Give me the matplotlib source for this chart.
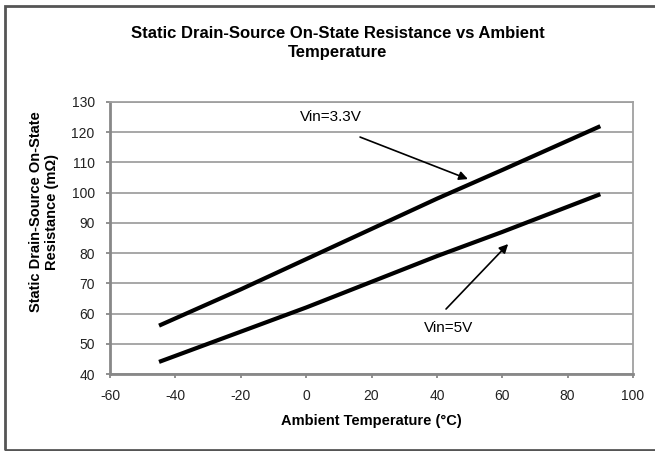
import numpy as np
import matplotlib.pyplot as plt
from matplotlib.patches import Rectangle

plt.rcParams['font.family'] = ['Liberation Sans', 'DejaVu Sans']
plt.rcParams['axes.unicode_minus'] = False

# ambient temperature (degC) and on-state resistance (mOhm)
temp = [-45, -20, 0, 20, 40, 60, 90]
r_3v3 = [56, 68, 78, 88, 98, 107.5, 122]
r_5v = [44, 54, 62, 70.5, 79, 87, 99.5]

x_ticks = [-60, -40, -20, 0, 20, 40, 60, 80, 100]
y_ticks = [40, 50, 60, 70, 80, 90, 100, 110, 120, 130]

fig = plt.figure(figsize=(6.55, 4.51), dpi=100)
ax = fig.add_axes([110/655, 1 - 374/451, 523/655, 272/451])

grid_c = '#a0a0a0'
ax.set_xlim(-60, 100)
ax.set_ylim(40, 130)
ax.set_xticks(x_ticks)
ax.set_yticks(y_ticks)
ax.yaxis.grid(True, color=grid_c, lw=1.3)
ax.set_axisbelow(True)
for s in ax.spines.values():
    s.set_color(grid_c)
    s.set_linewidth(1.3)
ax.spines['left'].set_color('#888888')
ax.spines['bottom'].set_color('#888888')
ax.spines['left'].set_linewidth(2)
ax.spines['bottom'].set_linewidth(2)
ax.tick_params(direction='out', length=3, color='#888888', width=1.3,
               labelsize=10, labelcolor='#222222', pad=8)

ax.plot(temp, r_3v3, color='black', lw=3, solid_capstyle='butt')
ax.plot(temp, r_5v, color='black', lw=3, solid_capstyle='butt')

arrow = dict(arrowstyle='-|>', color='black', lw=1.2, mutation_scale=13,
             shrinkA=0, shrinkB=0)
ax.text(7.5, 125, 'Vin=3.3V', fontsize=11, ha='center', va='center')
ax.annotate('', xy=(49.5, 104.5), xytext=(16.5, 118.4), arrowprops=arrow)
ax.annotate('', xy=(61.8, 83), xytext=(42.8, 61.5), arrowprops=arrow)
ax.text(43.5, 55.2, 'Vin=5V', fontsize=11, ha='center', va='center')

ax.set_xlabel('Ambient Temperature (°C)', fontsize=10.5, fontweight='bold',
              labelpad=8)
fig.text(44/655, 1 - 212/451, 'Static Drain-Source On-State\nResistance (mΩ)',
         rotation=90, ha='center', va='center', fontsize=10.5,
         fontweight='bold', linespacing=1.15)

fig.text(338/655, 1 - 43/451,
         'Static Drain-Source On-State Resistance vs Ambient\nTemperature',
         ha='center', va='center', fontsize=12, fontweight='bold',
         linespacing=1.3)

# outer frame
fig.patches.append(Rectangle((5/655, 1/451), 1.0, 444/451,
                             transform=fig.transFigure, fill=False,
                             edgecolor='#555555', lw=2))

fig.savefig('out.png', dpi=100)
